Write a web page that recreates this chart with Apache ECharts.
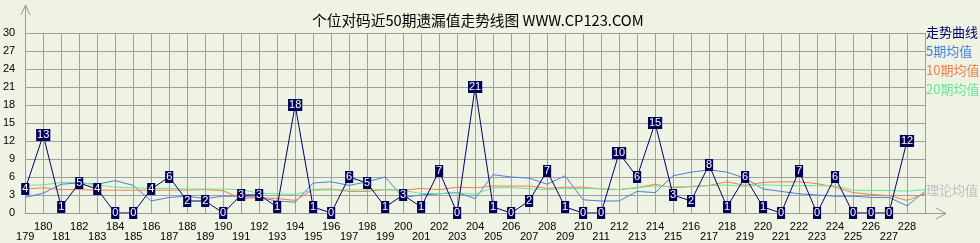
<!DOCTYPE html>
<html><head><meta charset="utf-8">
<script src="https://cdn.jsdelivr.net/npm/echarts@6/dist/echarts.min.js"></script>
<style>html,body{margin:0;padding:0;background:#EFF3E3}#c{width:980px;height:243px}</style>
</head><body><div id="c"></div>
<script>
// periods 179..229 (229 only carries the moving-average lines)
const periods = [179,180,181,182,183,184,185,186,187,188,189,190,191,192,193,194,195,196,197,198,199,200,201,202,203,204,205,206,207,208,209,210,211,212,213,214,215,216,217,218,219,220,221,222,223,224,225,226,227,228,229];
const trend = [4,13,1,5,4,0,0,4,6,2,2,0,3,3,1,18,1,0,6,5,1,3,1,7,0,21,1,0,2,7,1,0,0,10,6,15,3,2,8,1,6,1,0,7,0,6,0,0,0,12];
const ma5 = [2.6,3.3,4.8,5.0,4.8,5.4,4.6,2.0,2.6,2.8,2.4,2.8,2.8,2.6,2.0,1.8,5.0,5.2,4.6,5.2,6.0,2.6,3.0,3.2,3.4,2.4,6.4,6.0,5.8,4.8,6.2,2.2,2.0,2.0,3.6,3.4,6.2,6.8,7.2,6.8,5.8,4.0,3.6,3.2,3.0,2.8,2.8,2.6,2.6,1.2,3.6];
const ma10 = [4.0,4.2,3.9,3.9,3.8,3.8,3.8,3.8,3.8,3.8,3.9,3.7,2.4,2.6,2.4,2.1,3.9,4.0,3.6,3.6,3.9,3.8,4.1,3.9,4.3,4.2,4.5,4.5,4.5,4.1,4.3,4.3,4.0,3.9,4.2,4.8,4.2,4.4,4.6,5.2,4.6,5.1,5.2,5.2,4.9,4.3,3.4,3.1,2.9,2.1,3.2];
const ma20 = [4.6,4.7,5.1,5.1,4.7,4.3,4.2,4.1,4.1,4.0,4.0,4.0,3.9,3.3,3.2,3.1,3.8,3.85,3.85,3.85,3.9,3.75,3.25,3.25,3.35,3.15,4.2,4.25,4.05,3.85,4.1,4.05,4.05,3.9,4.25,4.5,4.35,4.45,4.55,4.65,4.45,4.7,4.6,4.55,4.55,4.55,3.8,3.75,3.75,3.65,3.9];
const theoryAvg = 3.8;
const legendNames = ['走势曲线','5期均值','10期均值','20期均值'];
const titleText = '个位对码近50期遗漏值走势线图 WWW.CP123.COM';

const C_TREND = '#000066', C_MA5 = '#4A80D8', C_MA10 = '#F0804A', C_MA20 = '#66E699';
const TICKFONT = '"Liberation Sans",Arial,sans-serif';
const CJK = '"Noto Sans CJK SC",sans-serif';
const pairs = (arr) => arr.map((v, i) => [periods[i], v]);

const chart = echarts.init(document.getElementById('c'), null, {renderer: 'canvas'});
chart.setOption({
  animation: false,
  backgroundColor: '#EFF3E3',
  title: {text: titleText, left: 307, top: 8, textStyle: {fontSize: 14.7, fontWeight: 'normal', color: '#000', fontFamily: CJK}},
  legend: {
    orient: 'vertical', left: 916, top: 21, itemWidth: 0, itemHeight: 0, itemGap: 6, selectedMode: false,
    textStyle: {fontSize: 13, fontFamily: CJK},
    data: [
      {name: legendNames[0], icon: 'rect', textStyle: {color: C_TREND}},
      {name: legendNames[1], icon: 'rect', textStyle: {color: C_MA5}},
      {name: legendNames[2], icon: 'rect', textStyle: {color: C_MA10}},
      {name: legendNames[3], icon: 'rect', textStyle: {color: C_MA20}}
    ]
  },
  grid: {left: 25, right: 55, top: 33, bottom: 30},
  xAxis: [{
    type: 'value', min: 179, max: 229, interval: 1,
    axisLine: {show: true, lineStyle: {color: '#999'}},
    axisTick: {show: false},
    splitLine: {show: true, lineStyle: {color: '#A0A0A0'}},
    axisLabel: {margin: 8, fontSize: 11, color: '#000', fontFamily: TICKFONT, showMinLabel: true, showMaxLabel: true,
      formatter: v => (v % 2 === 0 && v < 229) ? String(v) : ''}
  }, {
    type: 'value', min: 179, max: 229, interval: 1, position: 'bottom',
    axisLine: {show: false}, axisTick: {show: false}, splitLine: {show: false},
    axisLabel: {margin: 18, fontSize: 11, color: '#000', fontFamily: TICKFONT, showMinLabel: true, showMaxLabel: true,
      formatter: v => (v % 2 === 1 && v < 229) ? String(v) : ''}
  }],
  yAxis: {
    type: 'value', min: 0, max: 30, interval: 3,
    axisLine: {show: true, lineStyle: {color: '#999'}},
    axisTick: {show: false},
    splitLine: {show: true, lineStyle: {color: '#A0A0A0'}},
    axisLabel: {margin: 10, fontSize: 11, color: '#000', fontFamily: TICKFONT}
  },
  graphic: [
    {type: 'polyline', shape: {points: [[25.5, 33], [25.5, 5]]}, style: {stroke: '#999', lineWidth: 1, fill: null}},
    {type: 'polyline', shape: {points: [[21, 15], [25.5, 5], [30, 15]]}, style: {stroke: '#999', lineWidth: 1, fill: null}},
    {type: 'polyline', shape: {points: [[925, 213.5], [946, 213.5]]}, style: {stroke: '#999', lineWidth: 1, fill: null}},
    {type: 'polyline', shape: {points: [[936, 208], [946, 213.5], [936, 219]]}, style: {stroke: '#999', lineWidth: 1, fill: null}}
  ],
  series: [
    {name: legendNames[1], type: 'line', data: pairs(ma5), symbol: 'none', lineStyle: {color: C_MA5, width: 1}, itemStyle: {color: C_MA5}, z: 2},
    {name: legendNames[2], type: 'line', data: pairs(ma10), symbol: 'none', lineStyle: {color: C_MA10, width: 1}, itemStyle: {color: C_MA10}, z: 3},
    {name: legendNames[3], type: 'line', data: pairs(ma20), symbol: 'none', clip: false, lineStyle: {color: C_MA20, width: 1}, itemStyle: {color: C_MA20}, z: 4,
      markLine: {silent: true, symbol: ['none', 'none'], data: [{yAxis: theoryAvg}],
        lineStyle: {color: 'rgba(0,0,0,0)', width: 1, type: 'solid'},
        label: {show: true, position: 'end', formatter: '理论均值', color: '#C0C0C0', fontSize: 13, fontFamily: CJK, distance: 1}}},
    {name: legendNames[0], type: 'line', data: pairs(trend), symbol: 'rect', symbolSize: 1, showAllSymbol: true,
      lineStyle: {color: C_TREND, width: 1}, itemStyle: {color: C_TREND}, z: 10,
      label: {show: true, position: 'inside', formatter: p => String(p.value[1]), color: '#fff', backgroundColor: '#00005A',
        padding: [0, 1, 0, 1], fontSize: 11, lineHeight: 12, fontFamily: TICKFONT}}
  ]
});
</script></body></html>
